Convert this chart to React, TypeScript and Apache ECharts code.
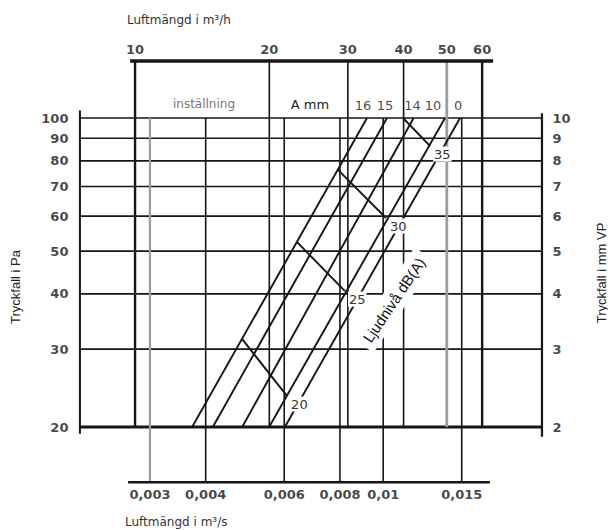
import React, { useEffect, useRef } from "react";
import * as echarts from "echarts";

// ---- data ----
const PRESSURE_PA = [20, 30, 40, 50, 60, 70, 80, 90, 100];
const PRESSURE_MMVP = [2, 3, 4, 5, 6, 7, 8, 9, 10];
const FLOW_M3H = [10, 20, 30, 40, 50, 60];
const FLOW_M3S = [0.003, 0.004, 0.006, 0.008, 0.01, 0.015];
const FLOW_M3S_LABELS = ["0,003", "0,004", "0,006", "0,008", "0,01", "0,015"];

// damper setting lines "A mm": flow (m³/s) at 20 Pa and at 100 Pa
const SETTINGS_MM = ["16", "15", "14", "10", "0"];
const SETTING_Q_AT_20 = [0.00373, 0.00415, 0.00483, 0.00555, 0.00602];
const SETTING_Q_AT_100 = [0.0092, 0.0102, 0.0117, 0.01376, 0.01487];

// sound level lines dB(A): [flow m³/s, pressure Pa] start and end
const NOISE_DBA = ["20", "25", "30", "35"];
const NOISE_START = [
  [0.00483, 31.6],
  [0.00641, 52.4],
  [0.00792, 76.3],
  [0.01108, 100],
];
const NOISE_END = [
  [0.00609, 23.5],
  [0.00821, 40.6],
  [0.01015, 59.4],
  [0.01274, 86.4],
];

// ---- layout constants (axis ranges in data units) ----
const X_MIN = 0.0013834;
const X_MAX = 0.031917;
const Y_MIN = 11.696;
const Y_MAX = 184.9;
const FRAME_LEFT_Q = 0.00209;
const FRAME_RIGHT_Q = 0.0227;
const TOP_AXIS_P = 134.5;
const BOTTOM_AXIS_P = 15.0;
const TOP_AXIS_EXT = [9.75, 63.5]; // m³/h
const BOTTOM_AXIS_EXT = [0.00268, 0.01735]; // m³/s

const INK = "#161616";
const GREY = "#9c9c9c";
const SCAN_FONT = "DejaVu Sans";
const CLEAN_FONT = "Liberation Sans";

function seg(pts: number[][], color: string, width: number, z = 2) {
  return {
    type: "line",
    data: pts,
    symbol: "none",
    showSymbol: false,
    silent: true,
    z,
    lineStyle: { color, width, cap: "butt" },
  };
}

function labels(
  items: { v: number[]; t: string; dx?: number }[],
  position: string,
  distance: number,
  extra: any = {}
) {
  return {
    type: "scatter",
    silent: true,
    symbolSize: 1,
    itemStyle: { color: "rgba(0,0,0,0)" },
    z: 10,
    data: items.map((it) => ({
      value: it.v,
      label: { formatter: it.t, offset: [it.dx || 0, 0] },
    })),
    label: {
      show: true,
      position,
      distance,
      color: INK,
      fontFamily: SCAN_FONT,
      fontSize: 13,
      fontWeight: "bold",
      ...extra,
    },
  };
}

export default function App() {
  const ref = useRef<HTMLDivElement>(null);

  useEffect(() => {
    if (!ref.current) return;
    const chart = echarts.init(ref.current, undefined, { renderer: "svg" });

    const series: any[] = [];

    // horizontal pressure lines
    PRESSURE_PA.forEach((p) => {
      series.push(
        seg([[FRAME_LEFT_Q, p], [FRAME_RIGHT_Q, p]], INK, p === 20 ? 3 : 1.6)
      );
    });
    // vertical lines of the top scale (m³/h), from 20 Pa up to the top axis
    FLOW_M3H.forEach((m) => {
      const q = m / 3600;
      const w = m === 10 || m === 60 ? 2.4 : m === 50 ? 2.8 : 1.6;
      series.push(seg([[q, 20], [q, TOP_AXIS_P]], m === 50 ? GREY : INK, w));
    });
    // vertical lines of the bottom scale (m³/s), from 100 Pa down to the bottom axis
    FLOW_M3S.forEach((q) => {
      series.push(
        seg([[q, 100], [q, BOTTOM_AXIS_P]], q === 0.003 ? GREY : INK, q === 0.003 ? 2.2 : 1.6)
      );
    });
    // frame: left/right pressure axes, top/bottom flow axes
    series.push(seg([[FRAME_LEFT_Q, 19.3], [FRAME_LEFT_Q, 104]], INK, 2));
    series.push(seg([[FRAME_RIGHT_Q, 19.0], [FRAME_RIGHT_Q, 102.5]], INK, 2.2));
    series.push(
      seg([[TOP_AXIS_EXT[0] / 3600, TOP_AXIS_P], [TOP_AXIS_EXT[1] / 3600, TOP_AXIS_P]], INK, 3.5)
    );
    series.push(
      seg([[BOTTOM_AXIS_EXT[0], BOTTOM_AXIS_P], [BOTTOM_AXIS_EXT[1], BOTTOM_AXIS_P]], INK, 2.5)
    );

    // damper setting lines
    SETTINGS_MM.forEach((_, i) => {
      series.push(seg([[SETTING_Q_AT_20[i], 20], [SETTING_Q_AT_100[i], 100]], INK, 1.9, 3));
    });

    // sound level lines with end labels
    NOISE_DBA.forEach((db, i) => {
      series.push({
        ...seg([NOISE_START[i], NOISE_END[i]], INK, 1.9, 4),
        endLabel: {
          show: true,
          formatter: db,
          color: "#333",
          fontFamily: SCAN_FONT,
          fontSize: 13,
          backgroundColor: "#fff",
          padding: [1, 1],
          distance: 3,
          offset: [0, 8],
        },
      });
    });

    // tick labels
    series.push(
      labels(
        PRESSURE_PA.map((p) => ({ v: [FRAME_LEFT_Q, p], t: String(p) })),
        "left",
        11
      )
    );
    series.push(
      labels(
        PRESSURE_MMVP.map((mm) => ({ v: [FRAME_RIGHT_Q, mm * 10], t: String(mm) })),
        "right",
        10
      )
    );
    series.push(
      labels(
        FLOW_M3H.map((m) => ({ v: [m / 3600, TOP_AXIS_P], t: String(m) })),
        "top",
        5
      )
    );
    series.push(
      labels(
        FLOW_M3S.map((q, i) => ({ v: [q, BOTTOM_AXIS_P], t: FLOW_M3S_LABELS[i] })),
        "bottom",
        5
      )
    );
    const settingDx = [-4, -2, -1, -12, -2];
    series.push(
      labels(
        SETTINGS_MM.map((s, i) => ({ v: [SETTING_Q_AT_100[i], 100], t: s, dx: settingDx[i] })),
        "top",
        6,
        { fontWeight: "normal", fontSize: 13 }
      )
    );

    chart.setOption({
      animation: false,
      backgroundColor: "#ffffff",
      grid: { left: 0, right: 0, top: 0, bottom: 0, containLabel: false },
      xAxis: { type: "log", min: X_MIN, max: X_MAX, show: false, logBase: 10 },
      yAxis: { type: "log", min: Y_MIN, max: Y_MAX, show: false, logBase: 10 },
      series,
      graphic: [
        {
          type: "text",
          x: 127,
          y: 20,
          z: 100,
          style: {
            text: "Luftmängd i m³/h",
            fontFamily: SCAN_FONT,
            fontSize: 12,
            fill: "#333",
            align: "left",
            verticalAlign: "middle",
          },
        },
        {
          type: "text",
          x: 125,
          y: 522,
          z: 100,
          style: {
            text: "Luftmängd i m³/s",
            fontFamily: SCAN_FONT,
            fontSize: 12,
            fill: "#333",
            align: "left",
            verticalAlign: "middle",
          },
        },
        {
          type: "text",
          x: 15,
          y: 287,
          rotation: Math.PI / 2,
          z: 100,
          style: {
            text: "Tryckfall i Pa",
            fontFamily: CLEAN_FONT,
            fontSize: 13,
            fill: "#222",
            align: "center",
            verticalAlign: "middle",
          },
        },
        {
          type: "text",
          x: 601,
          y: 273,
          rotation: Math.PI / 2,
          z: 100,
          style: {
            text: "Tryckfall i mm VP",
            fontFamily: CLEAN_FONT,
            fontSize: 13,
            fill: "#222",
            align: "center",
            verticalAlign: "middle",
          },
        },
        {
          type: "text",
          x: 204,
          y: 104,
          z: 100,
          style: {
            text: "inställning",
            fontFamily: SCAN_FONT,
            fontSize: 12,
            fill: "#777",
            align: "center",
            verticalAlign: "middle",
          },
        },
        {
          type: "text",
          x: 310,
          y: 104,
          z: 100,
          style: {
            text: "A mm",
            fontFamily: SCAN_FONT,
            fontSize: 13,
            fill: "#222",
            align: "center",
            verticalAlign: "middle",
          },
        },
        {
          type: "text",
          x: 394,
          y: 300,
          rotation: (56 * Math.PI) / 180,
          z: 100,
          style: {
            text: "Ljudnivå dB(A)",
            fontFamily: CLEAN_FONT,
            fontSize: 15,
            fill: "#111",
            align: "center",
            verticalAlign: "middle",
            backgroundColor: "#fff",
            padding: [5, 6],
          },
        },
      ],
    });

    return () => chart.dispose();
  }, []);

  return (
    <div
      ref={ref}
      style={{ position: "absolute", left: 0, top: 0, width: 608, height: 530 }}
    />
  );
}
